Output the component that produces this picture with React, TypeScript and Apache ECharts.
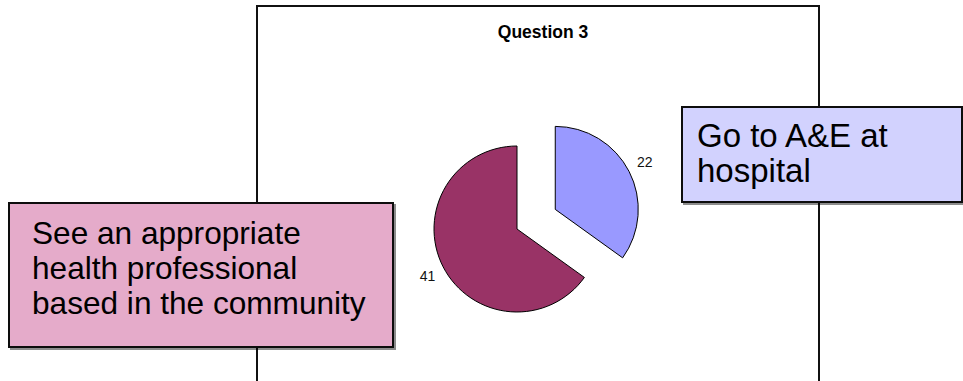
import React, { useEffect, useRef } from "react";
import * as echarts from "echarts";

const categories = [
  "Go to A&E at hospital",
  "See an appropriate health professional based in the community",
];
const values = [22, 41];
const sliceColors = ["#9999FF", "#993366"];
const titleText = "Question 3";
const blueBoxText = "Go to A&E at\nhospital";
const pinkBoxText = "See an appropriate\nhealth professional\nbased in the community";

export default function App() {
  const ref = useRef<HTMLDivElement>(null);
  useEffect(() => {
    if (!ref.current) return;
    const chart = echarts.init(ref.current, null, { renderer: "svg" });
    const font = "Arial, 'Liberation Sans', sans-serif";
    chart.setOption({
      animation: false,
      backgroundColor: "#ffffff",
      title: {
        text: titleText,
        left: 538,
        textAlign: "center",
        top: 18,
        textStyle: { fontFamily: font, fontSize: 17.5, fontWeight: "bold", color: "#000" },
      },
      graphic: [
        {
          type: "rect",
          z: 0,
          shape: { x: 257, y: 6, width: 562, height: 420 },
          style: { fill: "#ffffff", stroke: "#111", lineWidth: 2 },
        },
        {
          type: "rect",
          z: 10,
          shape: { x: 9, y: 203, width: 384, height: 144 },
          style: {
            fill: "#E5ABCA",
            stroke: "#111",
            lineWidth: 2,
            shadowColor: "rgba(0,0,0,0.45)",
            shadowOffsetX: 2,
            shadowOffsetY: 2,
            shadowBlur: 0,
          },
        },
        {
          type: "text",
          z: 11,
          x: 32,
          y: 215,
          style: {
            text: pinkBoxText,
            fontFamily: font,
            fontSize: 31.6,
            lineHeight: 35,
            fill: "#000",
            verticalAlign: "top",
          },
        },
        {
          type: "rect",
          z: 10,
          shape: { x: 682, y: 107, width: 280, height: 95 },
          style: {
            fill: "#D2D2FE",
            stroke: "#111",
            lineWidth: 2,
            shadowColor: "rgba(0,0,0,0.45)",
            shadowOffsetX: 2,
            shadowOffsetY: 2,
            shadowBlur: 0,
          },
        },
        {
          type: "text",
          z: 11,
          x: 697,
          y: 118,
          style: {
            text: blueBoxText,
            fontFamily: font,
            fontSize: 33,
            lineHeight: 35,
            fill: "#000",
            verticalAlign: "top",
          },
        },
      ],
      series: [
        {
          type: "pie",
          z: 5,
          center: [517, 229],
          radius: 83,
          startAngle: 90,
          clockwise: true,
          selectedMode: "single",
          selectedOffset: 43,
          avoidLabelOverlap: false,
          itemStyle: { borderColor: "#000", borderWidth: 1 },
          label: {
            show: true,
            position: "outside",
            formatter: "{c}",
            fontFamily: font,
            fontSize: 14,
            color: "#111",
            distanceToLabelLine: -10,
          },
          labelLine: { show: false, length: 20, length2: 0 },
          emphasis: { disabled: true },
          data: categories.map((name, i) => ({
            name,
            value: values[i],
            selected: i === 0,
            itemStyle: { color: sliceColors[i] },
          })),
        },
      ],
    });
    return () => chart.dispose();
  }, []);
  return (
    <div
      ref={ref}
      style={{ position: "absolute", left: 0, top: 0, width: 963, height: 381 }}
    />
  );
}
